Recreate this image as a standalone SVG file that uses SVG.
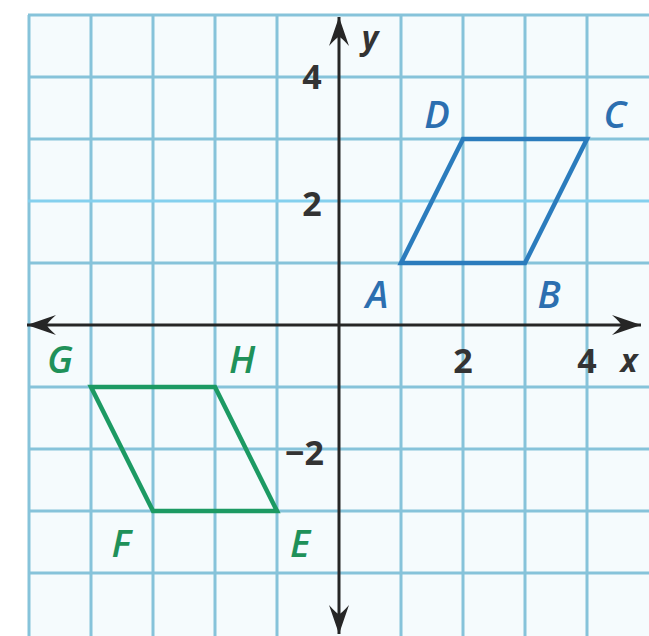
<svg xmlns="http://www.w3.org/2000/svg" width="649" height="636" viewBox="0 0 649 636">
<defs>
<style>
.grid line{stroke:#86c3da;stroke-width:3}
.axis{stroke:#262626;stroke-width:3;fill:none}
.num{font-family:"Open Sans","Liberation Sans",sans-serif;font-weight:700;font-size:34px;fill:#333;text-anchor:middle}
.var{font-family:"Open Sans","Liberation Sans",sans-serif;font-weight:700;font-style:italic;font-size:32px;fill:#333;text-anchor:middle}
.lbl{font-family:"Open Sans","Liberation Sans",sans-serif;font-weight:600;font-style:italic;font-size:38px;text-anchor:middle}
.blue{fill:#2c6fb0}
.green{fill:#1f9159}
.pb{fill:none;stroke:#2b7cbd;stroke-width:4.5;stroke-linejoin:miter}
.pg{fill:none;stroke:#1c9a63;stroke-width:4.5;stroke-linejoin:miter}
</style>
<marker id="arr" viewBox="-30 -12 32 24" refX="0" refY="0" markerWidth="32" markerHeight="24" markerUnits="userSpaceOnUse" orient="auto">
<path d="M0,0 L-29,-10 Q-20,-2 -20,0 Q-20,2 -29,10 Z" fill="#262626"/>
</marker>
</defs>
<rect x="0" y="0" width="649" height="636" fill="#ffffff"/>
<rect x="28" y="15" width="621" height="621" fill="#f5fbfd"/>
<g id="grid" class="grid">
<line x1="29" y1="15" x2="29" y2="636"/>
<line x1="91" y1="15" x2="91" y2="636"/>
<line x1="153" y1="15" x2="153" y2="636"/>
<line x1="215" y1="15" x2="215" y2="636"/>
<line x1="277" y1="15" x2="277" y2="636"/>
<line x1="401" y1="15" x2="401" y2="636"/>
<line x1="463" y1="15" x2="463" y2="636"/>
<line x1="525" y1="15" x2="525" y2="636"/>
<line x1="587" y1="15" x2="587" y2="636"/>
<line x1="28" y1="15" x2="649" y2="15"/>
<line x1="28" y1="77" x2="649" y2="77"/>
<line x1="28" y1="139" x2="649" y2="139"/>
<line x1="28" y1="201" x2="649" y2="201" style="stroke:#84d0ee"/>
<line x1="28" y1="263" x2="649" y2="263"/>
<line x1="28" y1="387" x2="649" y2="387"/>
<line x1="28" y1="449" x2="649" y2="449"/>
<line x1="28" y1="511" x2="649" y2="511"/>
<line x1="28" y1="573" x2="649" y2="573"/>
</g>
<g id="axes">
<line class="axis" x1="339" y1="325" x2="641" y2="325" marker-end="url(#arr)"/>
<line class="axis" x1="339" y1="325" x2="27" y2="325" marker-end="url(#arr)"/>
<line class="axis" x1="339" y1="325" x2="339" y2="17" marker-end="url(#arr)"/>
<line class="axis" x1="339" y1="325" x2="339" y2="634" marker-end="url(#arr)"/>
<text class="num" x="312" y="89">4</text>
<text class="num" x="312" y="216">2</text>
<text class="num" x="324" y="465" style="text-anchor:end">−2</text>
<text class="num" x="463" y="373">2</text>
<text class="num" x="587" y="373">4</text>
<text class="var" x="629" y="372">x</text>
<text class="var" x="370" y="49">y</text>
</g>
<g id="ABCD">
<polygon class="pb" points="401,263 525,263 587,139 463,139"/>
<text class="lbl blue" x="437" y="128">D</text>
<text class="lbl blue" x="615" y="128">C</text>
<text class="lbl blue" x="377" y="308">A</text>
<text class="lbl blue" x="549" y="308">B</text>
</g>
<g id="EFGH">
<polygon class="pg" points="277,511 153,511 91,387 215,387"/>
<text class="lbl green" x="60" y="373">G</text>
<text class="lbl green" x="242" y="373">H</text>
<text class="lbl green" x="121" y="557">F</text>
<text class="lbl green" x="300" y="557">E</text>
</g>
</svg>
